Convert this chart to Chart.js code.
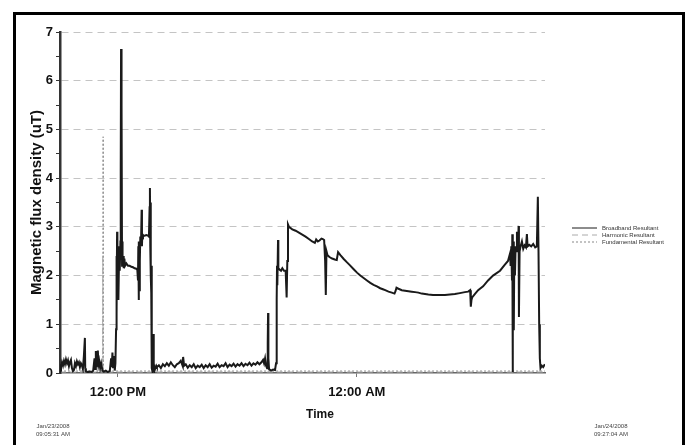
<!DOCTYPE html>
<html>
<head>
<meta charset="utf-8">
<script src="https://cdn.jsdelivr.net/npm/chart.js@4.4.1/dist/chart.umd.min.js"></script>
<style>
  html, body { margin: 0; padding: 0; background: #fff; overflow: hidden; }
  #wrap { position: relative; width: 694px; height: 445px; }
  #frame { position: absolute; left: 13px; top: 12px; width: 672px; height: 500px; border: 3px solid #000; box-sizing: border-box; pointer-events: none; }
</style>
</head>
<body>
<div id="wrap">
  <canvas id="fluxChart" width="694" height="445"></canvas>
  <div id="frame"></div>
</div>
<script>
// minutes since Jan/23/2008 09:05:31 AM
const totalMinutes = 1461.55;
const tickMinutes = [174.5, 894.5];
const tickLabels = ['12:00 PM', '12:00 AM'];
const yTicks = [0, 1, 2, 3, 4, 5, 6, 7];
const startStamp = ['Jan/23/2008', '09:05:31 AM'];
const endStamp = ['Jan/24/2008', '09:27:04 AM'];

const bbTime = [
  0, 3, 6, 9, 12, 15, 18, 21, 24, 27, 30, 33, 36, 39, 42, 45, 48, 51, 54, 57,
  60, 63, 66, 69, 72, 75, 76, 78, 84, 90, 96, 100, 104, 106, 108, 110, 112, 114, 116, 118,
  121, 124, 128, 132, 138, 144, 150, 154, 156, 158, 160, 163, 165, 167, 169, 170, 171, 172, 173, 175,
  176, 178, 180, 182, 183, 184, 185, 186, 187, 188, 189, 190, 192, 194, 196, 200, 205, 210, 215, 220,
  225, 230, 233, 235, 236, 237, 238, 239, 240, 241, 242, 244, 246, 247, 248, 250, 255, 260, 265, 268,
  270, 271, 272, 273, 274, 275, 276, 277, 279, 281, 282, 283, 285, 287, 290, 292, 298, 304, 310, 316,
  322, 328, 334, 340, 346, 352, 358, 364, 370, 371, 374, 379, 385, 391, 397, 403, 409, 415, 421, 427,
  433, 439, 445, 451, 457, 463, 469, 475, 481, 487, 493, 499, 505, 511, 517, 523, 529, 535, 541, 547,
  553, 559, 565, 571, 577, 583, 589, 595, 601, 607, 612, 615, 618, 621, 624, 626, 627, 628, 630, 636,
  642, 648, 651, 653, 654, 655, 657, 658, 662, 666, 670, 675, 680, 683, 685, 687, 690, 700, 710, 720,
  730, 740, 750, 760, 768, 772, 777, 782, 788, 792, 796, 799, 801, 803, 806, 812, 820, 828, 834, 838,
  845, 855, 865, 874, 885, 895, 905, 915, 925, 935, 945, 955, 965, 973, 980, 990, 1000, 1008, 1011, 1014,
  1020, 1030, 1040, 1050, 1060, 1070, 1080, 1090, 1100, 1110, 1124, 1140, 1160, 1175, 1190, 1205, 1220, 1230, 1236, 1238,
  1240, 1242, 1250, 1260, 1275, 1290, 1305, 1326, 1340, 1350, 1356, 1358, 1360, 1362, 1363, 1364, 1365, 1366, 1367, 1368,
  1369, 1371, 1373, 1375, 1377, 1380, 1382, 1383, 1385, 1388, 1392, 1396, 1400, 1404, 1407, 1409, 1414, 1420, 1426, 1432,
  1437, 1440, 1442, 1444, 1446, 1448, 1452, 1456, 1461
];
const bbValue = [
  0.18, 0.12, 0.22, 0.15, 0.25, 0.18, 0.28, 0.2, 0.26, 0.14, 0.22, 0.27, 0.1, 0.04, 0.06, 0.2, 0.14, 0.24, 0.18, 0.22,
  0.12, 0.2, 0.16, 0.08, 0.35, 0.72, 0.1, 0.03, 0.02, 0.03, 0.02, 0.05, 0.3, 0.08, 0.45, 0.12, 0.3, 0.46, 0.18, 0.25,
  0.1, 0.2, 0.05, 0.03, 0.05, 0.02, 0.04, 0.3, 0.12, 0.42, 0.1, 0.35, 0.05, 0.2, 0.9, 2.4, 1.2, 2.9, 1.8, 2.6,
  1.5, 2.4, 2.1, 2.7, 4.2, 6.65, 3.0, 5.5, 2.2, 2.7, 2.3, 2.4, 2.15, 2.35, 2.2, 2.25, 2.2, 2.2, 2.18, 2.17,
  2.15, 2.14, 2.12, 1.9, 2.6, 1.5, 2.7, 1.7, 2.5, 2.3, 2.8, 2.6, 3.35, 2.6, 2.85, 2.82, 2.82, 2.83, 2.82, 2.8,
  3.4, 3.8, 2.6, 3.5, 2.0, 1.65, 2.2, 0.1, 0.02, 0.05, 0.8, 0.2, 0.05, 0.1, 0.15, 0.12, 0.16, 0.1, 0.18, 0.14,
  0.2, 0.15, 0.22, 0.16, 0.12, 0.18, 0.2, 0.25, 0.14, 0.33, 0.15, 0.18, 0.11, 0.16, 0.12, 0.18, 0.1, 0.15, 0.12, 0.17,
  0.1, 0.16, 0.12, 0.18, 0.11, 0.15, 0.13, 0.19, 0.12, 0.16, 0.14, 0.2, 0.12, 0.17, 0.14, 0.19, 0.13, 0.18, 0.15, 0.2,
  0.14, 0.19, 0.16, 0.21, 0.15, 0.2, 0.17, 0.22, 0.18, 0.22, 0.27, 0.2, 0.3, 0.15, 0.1, 0.6, 1.23, 0.3, 0.08, 0.05,
  0.07, 0.06, 0.2, 1.5, 2.2, 1.8, 2.73, 2.15, 2.12, 2.1, 2.15, 2.1, 2.1, 1.55, 2.3, 3.05, 3.0, 2.95, 2.92, 2.88,
  2.84, 2.8, 2.75, 2.7, 2.67, 2.74, 2.7, 2.72, 2.76, 2.75, 2.73, 2.3, 1.6, 2.5, 2.42, 2.38, 2.35, 2.33, 2.32, 2.48,
  2.42, 2.34, 2.27, 2.21, 2.13, 2.06, 2.0, 1.95, 1.9, 1.85, 1.81, 1.78, 1.74, 1.72, 1.7, 1.67, 1.65, 1.63, 1.68, 1.75,
  1.73, 1.7, 1.69, 1.68, 1.67, 1.66, 1.65, 1.63, 1.62, 1.61, 1.6, 1.6, 1.6, 1.61, 1.62, 1.64, 1.66, 1.67, 1.7, 1.36,
  1.5, 1.55, 1.62, 1.7, 1.78, 1.9, 2.0, 2.1, 2.22, 2.3, 2.45, 2.2, 2.6, 1.9, 2.85, 0.02, 2.5, 1.1, 2.7, 0.88,
  2.4, 2.0, 2.6, 2.5, 2.9, 2.5, 3.02, 1.15, 2.5, 2.6, 2.7, 2.55, 2.62, 2.58, 2.85, 2.6, 2.63, 2.6, 2.65, 2.58,
  2.6, 3.62, 2.5, 1.0, 0.3, 0.1, 0.15, 0.12, 0.18
];

const harmTime = [0, 128, 129, 130, 600, 1461];
const harmValue = [0.02, 0.02, 2.42, 0.02, 0.02, 0.02];

const fundTime = [0, 129, 130, 131, 700, 1461];
const fundValue = [0.04, 0.04, 4.85, 0.04, 0.04, 0.04];

function pairs(t, v) {
  return t.map(function(x, i) { return { x: x, y: v[i] }; });
}

const FONT = '"Liberation Sans", Arial, sans-serif';

// legend, Time title and date stamps
const extras = {
  id: 'extras',
  afterDraw: function(chart) {
    const ctx = chart.ctx;
    ctx.save();
    ctx.fillStyle = '#111';
    ctx.font = 'bold 12px ' + FONT;
    ctx.textAlign = 'center';
    ctx.textBaseline = 'middle';
    ctx.fillText('Time', 320, 415);

    ctx.font = '6px ' + FONT;
    ctx.fillStyle = '#444';
    ctx.fillText(startStamp[0], 53, 426);
    ctx.fillText(startStamp[1], 53, 434);
    ctx.fillText(endStamp[0], 611, 426);
    ctx.fillText(endStamp[1], 611, 434);

    // legend
    ctx.textAlign = 'left';
    chart.data.datasets.forEach(function(ds, i) {
      const y = 228 + i * 7;
      ctx.beginPath();
      ctx.strokeStyle = ds.borderColor;
      ctx.lineWidth = 1;
      ctx.setLineDash(ds.borderDash || []);
      ctx.moveTo(572, y);
      ctx.lineTo(597, y);
      ctx.stroke();
      ctx.fillStyle = '#333';
      ctx.fillText(ds.label, 602, y);
    });
    ctx.restore();
  }
};

new Chart(document.getElementById('fluxChart').getContext('2d'), {
  type: 'line',
  data: {
    datasets: [{
      label: 'Broadband Resultant',
      data: pairs(bbTime, bbValue),
      borderColor: '#1a1a1a',
      borderWidth: 2,
      pointRadius: 0,
      order: 0
    }, {
      label: 'Harmonic Resultant',
      data: pairs(harmTime, harmValue),
      borderColor: '#aaaaaa',
      borderDash: [6, 4],
      borderWidth: 1,
      pointRadius: 0,
      order: 1
    }, {
      label: 'Fundamental Resultant',
      data: pairs(fundTime, fundValue),
      borderColor: '#888888',
      borderDash: [2, 2],
      borderWidth: 1,
      pointRadius: 0,
      order: 2
    }]
  },
  options: {
    responsive: false,
    animation: false,
    layout: { padding: { left: 0, top: 32, right: 149, bottom: 0 } },
    plugins: {
      legend: { display: false },
      tooltip: { enabled: false }
    },
    scales: {
      x: {
        type: 'linear',
        min: 0,
        max: totalMinutes,
        afterBuildTicks: function(scale) {
          scale.ticks = tickMinutes.map(function(v) { return { value: v }; });
        },
        afterFit: function(scale) { scale.height = 72; },
        ticks: {
          autoSkip: false,
          maxRotation: 0,
          padding: 8,
          color: '#111',
          font: { family: FONT, size: 13, weight: 'bold' },
          callback: function(value) {
            const i = tickMinutes.indexOf(value);
            return i >= 0 ? tickLabels[i] : '';
          }
        },
        grid: { drawOnChartArea: false, tickLength: 4, tickColor: '#777' },
        border: { color: '#666', width: 1.5 }
      },
      y: {
        min: 0,
        max: 7,
        afterFit: function(scale) { scale.width = 60; },
        ticks: {
          stepSize: 0.5,
          padding: 3,
          color: '#111',
          font: { family: FONT, size: 13, weight: 'bold' },
          callback: function(value) {
            return yTicks.indexOf(value) >= 0 ? String(value) : '';
          }
        },
        grid: {
          color: function(c) {
            const v = c.tick ? c.tick.value : 0;
            return (v > 0 && Number.isInteger(v)) ? '#c4c4c4' : 'rgba(0,0,0,0)';
          },
          tickLength: 4,
          tickColor: '#333',
          tickBorderDash: []
        },
        border: { color: '#333', width: 2.5, dash: [7, 5] },
        title: {
          display: true,
          text: 'Magnetic flux density (uT)',
          color: '#111',
          font: { family: FONT, size: 15, weight: 'bold' },
          padding: { top: 28, bottom: 0 }
        }
      }
    }
  },
  plugins: [extras]
});
</script>
</body>
</html>
